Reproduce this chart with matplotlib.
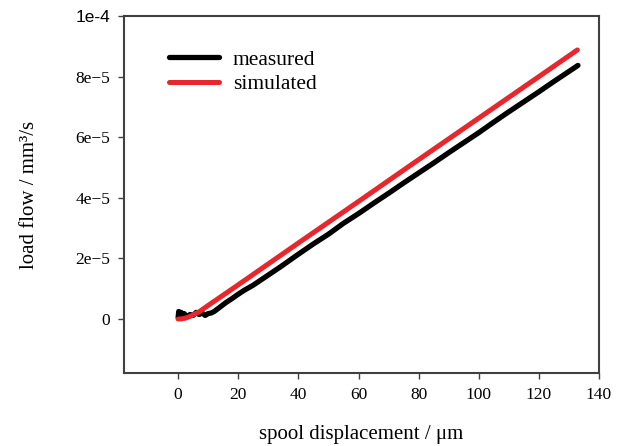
import matplotlib
matplotlib.use('Agg')
import matplotlib.pyplot as plt
import numpy as np

plt.rcParams['font.family'] = ['Liberation Serif', 'DejaVu Serif']

# measured load flow (values in 1e-5 mm^3/s)
meas_x = [0.0, 0.2, 0.5, 1.0, 1.5, 2.0, 3.0, 4.0, 5.0, 6.0, 7.0, 8.0, 9.0, 10.0,
          11.0, 12.0, 14.0, 16.0, 18.0, 20.0, 22.0, 25.0, 28.0, 31.0, 34.0, 37.0,
          40.0, 45.0, 50.0, 55.0, 60.0, 65.0, 70.0, 75.0, 80.0, 85.0, 90.0, 95.0,
          100.0, 105.0, 110.0, 115.0, 120.0, 125.0, 130.0, 133.0]
meas_y = [0.05, 0.25, 0.15, 0.22, 0.10, 0.18, 0.08, 0.15, 0.12, 0.22, 0.15, 0.20,
          0.12, 0.18, 0.20, 0.25, 0.40, 0.55, 0.68, 0.82, 0.95, 1.12, 1.32, 1.52,
          1.72, 1.93, 2.14, 2.48, 2.80, 3.16, 3.48, 3.82, 4.15, 4.49, 4.82, 5.15,
          5.49, 5.82, 6.15, 6.50, 6.84, 7.17, 7.50, 7.84, 8.17, 8.37]

# simulated load flow (values in 1e-5 mm^3/s)
sim_x = [0, 1, 2, 3, 4, 5, 6, 7, 8, 10, 15, 20, 30, 40, 60, 80, 100, 120, 132.8]
sim_y = [0.0, 0.005, 0.02, 0.05, 0.09, 0.14, 0.19, 0.24, 0.31, 0.45, 0.79, 1.13,
         1.82, 2.51, 3.88, 5.26, 6.63, 8.00, 8.88]

x_ticks = [0, 20, 40, 60, 80, 100, 120, 140]
y_ticks = [0, 2e-5, 4e-5, 6e-5, 8e-5, 1e-4]
y_tick_labels = ['0', '2e\u22125', '4e\u22125', '6e\u22125', '8e\u22125', '1e-4']

fig = plt.figure(figsize=(6.34, 4.46), dpi=100)
ax = fig.add_axes([0.1956, 0.1637, 0.7492, 0.8004])

ax.plot(meas_x, np.array(meas_y) * 1e-5, color='black', linewidth=3.8,
        solid_capstyle='round', label='measured')
ax.plot(sim_x, np.array(sim_y) * 1e-5, color='#e8262b', linewidth=3.6,
        solid_capstyle='round', label='simulated')

ax.set_xlim(-18, 140)
ax.set_ylim(-1.78e-5, 1e-4)
ax.set_xticks(x_ticks)
ax.set_xticklabels([str(t) for t in x_ticks])
ax.set_yticks(y_ticks)
ax.set_yticklabels(y_tick_labels)
ax.get_yticklabels()[-1].set_fontfamily('Liberation Sans')

for sp in ax.spines.values():
    sp.set_color('#404040')
    sp.set_linewidth(1.5)
ax.tick_params(direction='out', length=4, width=1, color='#404040',
               labelsize=12.5)
ax.tick_params(axis='y', pad=6)
ax.tick_params(axis='x', pad=6)

ax.set_xlabel('spool displacement / \u03bcm', fontsize=15, labelpad=16)
ax.set_ylabel('load flow / mm\u00b3/s', fontsize=15, labelpad=26)

ax.legend(loc='upper left', bbox_to_anchor=(0.095, 0.905), frameon=False,
          fontsize=15.5, handlelength=2.3, handletextpad=0.65,
          labelspacing=0.2, borderpad=0, borderaxespad=0)

plt.savefig('out.png', dpi=100)
plt.close(fig)
